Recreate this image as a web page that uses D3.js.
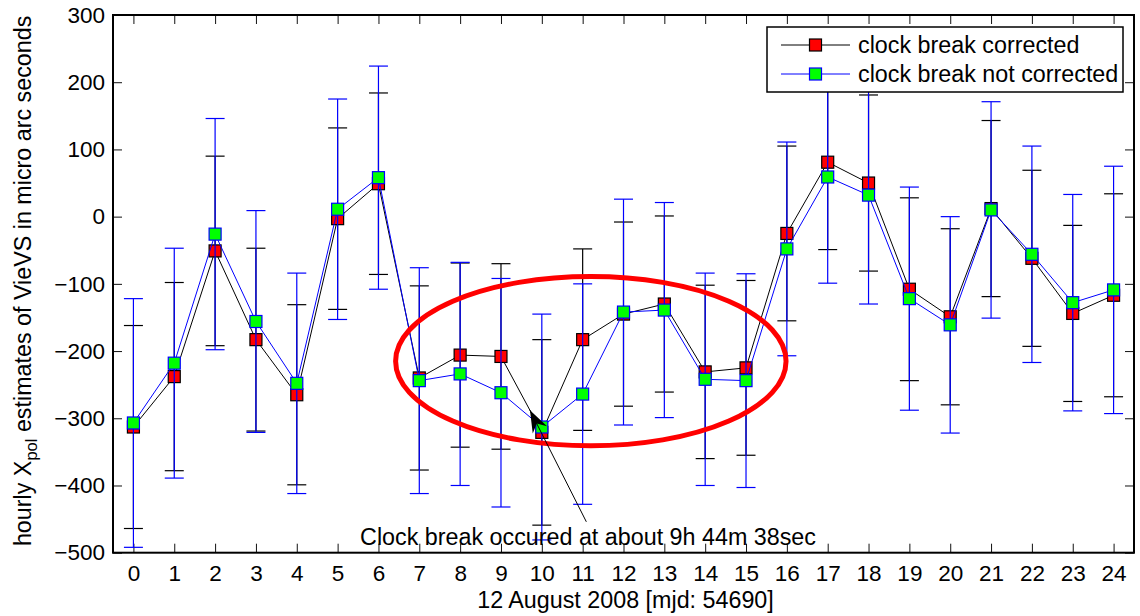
<!DOCTYPE html>
<html>
<head>
<meta charset="utf-8">
<script src="https://cdn.jsdelivr.net/npm/d3@7"></script>
<style>
  html, body { margin: 0; padding: 0; background: #fff; }
  svg { display: block; font-family: "Liberation Sans", Arial, Helvetica, sans-serif; }
</style>
</head>
<body>
<svg id="chart" width="1140" height="616"></svg>
<script>
// ---------- data ----------
const hours = d3.range(0, 25);
const yTicks = [-500, -400, -300, -200, -100, 0, 100, 200, 300];

const seriesNames = ["clock break corrected", "clock break not corrected"];

const corrected    = [-313, -238, -51, -183, -265, -3, 49, -240, -206, -208, -321, -183, -145, -130, -231, -225, -25, 81, 50, -108, -149, 12, -62, -144, -117];
const correctedErr = [151, 140, 141, 136, 134, 135, 135, 137, 137, 138, 138, 135, 137, 131, 129, 130, 130, 130, 131, 136, 131, 131, 131, 131, 151];

const notCorrected    = [-307, -218, -26, -156, -248, 11, 58, -244, -234, -262, -313, -264, -142, -139, -242, -244, -48, 59, 32, -122, -161, 10, -56, -128, -109];
const notCorrectedErr = [185, 171, 172, 165, 164, 164, 166, 168, 166, 170, 168, 164, 168, 160, 158, 159, 159, 158, 162, 166, 161, 161, 161, 161, 184];

const xLabel = "12 August 2008 [mjd: 54690]";
const annotationText = "Clock break occured at about 9h 44m 38sec";

// ---------- layout ----------
const svg = d3.select("#chart");
const L = 113, R = 1134, T = 15, B = 552.7;
const x = d3.scaleLinear().domain([-0.5, 24.5]).range([L, R]);
const y = d3.scaleLinear().domain([-500, 300]).range([B, T]);

const FS = 22.5;   // tick labels
const FL = 23.3;   // other text
const tickLen = 9;

// ---------- axes ----------
function styleAxis(g) {
  g.select(".domain").remove();
  g.selectAll(".tick line").attr("stroke", "#111").attr("stroke-width", 1);
  g.selectAll(".tick text").attr("fill", "#000").attr("font-size", FS).attr("font-family", "Liberation Sans, Arial, sans-serif");
}
svg.append("g").attr("transform", `translate(0,${B})`)
  .call(d3.axisBottom(x).tickValues(hours).tickFormat(d3.format("d")).tickSizeInner(-tickLen).tickSizeOuter(0).tickPadding(12))
  .call(styleAxis);
svg.append("g").attr("transform", `translate(0,${T})`)
  .call(d3.axisTop(x).tickValues(hours).tickFormat("").tickSizeInner(-tickLen).tickSizeOuter(0))
  .call(styleAxis);
svg.append("g").attr("transform", `translate(${L},0)`)
  .call(d3.axisLeft(y).tickValues(yTicks).tickFormat(d => d < 0 ? "\u2212" + Math.abs(d) : d).tickSizeInner(-tickLen).tickSizeOuter(0).tickPadding(8))
  .call(styleAxis);
svg.append("g").attr("transform", `translate(${R},0)`)
  .call(d3.axisRight(y).tickValues(yTicks).tickFormat("").tickSizeInner(-tickLen).tickSizeOuter(0))
  .call(styleAxis);

svg.append("rect").attr("x", L).attr("y", T).attr("width", R - L).attr("height", B - T)
  .attr("fill", "none").attr("stroke", "#000").attr("stroke-width", 2);

// ---------- series ----------
const series = [
  { name: seriesNames[0], vals: corrected, errs: correctedErr, line: "#000000", fill: "#ff0000", edge: "#000000" },
  { name: seriesNames[1], vals: notCorrected, errs: notCorrectedErr, line: "#0000ff", fill: "#00ff00", edge: "#0000ff" }
];
const cap = 9.5, ms = 12;

const plot = svg.append("g");
series.forEach(s => {
  const g = plot.append("g");
  const pts = hours.map((h, i) => ({ h, v: s.vals[i], e: s.errs[i] }));
  const eb = g.selectAll(".eb").data(pts).enter().append("g");
  eb.append("line").attr("x1", d => x(d.h)).attr("x2", d => x(d.h))
    .attr("y1", d => y(d.v - d.e)).attr("y2", d => y(d.v + d.e))
    .attr("stroke", s.line).attr("stroke-width", 1.2);
  eb.append("line").attr("x1", d => x(d.h) - cap).attr("x2", d => x(d.h) + cap)
    .attr("y1", d => y(d.v + d.e)).attr("y2", d => y(d.v + d.e))
    .attr("stroke", s.line).attr("stroke-width", 1.2);
  eb.append("line").attr("x1", d => x(d.h) - cap).attr("x2", d => x(d.h) + cap)
    .attr("y1", d => y(d.v - d.e)).attr("y2", d => y(d.v - d.e))
    .attr("stroke", s.line).attr("stroke-width", 1.2);
  g.append("path").datum(pts)
    .attr("d", d3.line().x(d => x(d.h)).y(d => y(d.v)))
    .attr("fill", "none").attr("stroke", s.line).attr("stroke-width", 1);
  s.g = g; s.pts = pts;
});
series.forEach(s => {
  s.g.selectAll(".m").data(s.pts).enter().append("rect")
    .attr("x", d => x(d.h) - ms / 2).attr("y", d => y(d.v) - ms / 2)
    .attr("width", ms).attr("height", ms)
    .attr("fill", s.fill).attr("stroke", s.edge).attr("stroke-width", 1.2);
});

// ---------- labels ----------
svg.append("text").attr("x", (L + R) / 2 + 2).attr("y", 608).attr("text-anchor", "middle")
  .attr("font-size", FL).text(xLabel);

const yl = svg.append("text").attr("transform", `translate(31,${(T + B) / 2 - 3}) rotate(-90)`)
  .attr("text-anchor", "middle").attr("font-size", FL);
yl.append("tspan").text("hourly X");
yl.append("tspan").attr("font-size", 16.5).attr("dy", 6).text("pol");
yl.append("tspan").attr("dy", -6).text(" estimates of VieVS in micro arc seconds");

// ---------- legend ----------
const lg = svg.append("g");
lg.append("rect").attr("x", 767).attr("y", 27).attr("width", 356).attr("height", 65)
  .attr("fill", "#fff").attr("stroke", "#000").attr("stroke-width", 1.5);
series.forEach((s, i) => {
  const ly = 45 + i * 29;
  lg.append("line").attr("x1", 781).attr("x2", 850).attr("y1", ly).attr("y2", ly)
    .attr("stroke", s.line).attr("stroke-width", 1);
  lg.append("rect").attr("x", 815.5 - ms / 2).attr("y", ly - ms / 2).attr("width", ms).attr("height", ms)
    .attr("fill", s.fill).attr("stroke", s.edge).attr("stroke-width", 1.2);
  lg.append("text").attr("x", 858).attr("y", ly + 8).attr("font-size", FL).text(s.name);
});

// ---------- annotations (data units) ----------
const ellipseC = { h: 11.2, v: -215, rh: 4.78, rv: 126 };
svg.append("ellipse")
  .attr("cx", x(ellipseC.h)).attr("cy", y(ellipseC.v))
  .attr("rx", x(ellipseC.h + ellipseC.rh) - x(ellipseC.h))
  .attr("ry", y(ellipseC.v - ellipseC.rv) - y(ellipseC.v))
  .attr("fill", "none").attr("stroke", "#ff0000").attr("stroke-width", 5);

const arrowTail = { h: 11.09, v: -454 }, arrowTip = { h: 9.71, v: -288 };
const tx = x(arrowTip.h), ty = y(arrowTip.v), sx = x(arrowTail.h), sy = y(arrowTail.v);
svg.append("line").attr("x1", sx).attr("y1", sy).attr("x2", tx).attr("y2", ty)
  .attr("stroke", "#000").attr("stroke-width", 1);
{
  const ang = Math.atan2(ty - sy, tx - sx);
  const hl = 22, hw = 8, back = 15;
  const ux = Math.cos(ang), uy = Math.sin(ang), px = -uy, py = ux;
  const bx = tx - ux * hl, by = ty - uy * hl;
  const nx = tx - ux * back, ny = ty - uy * back;
  svg.append("path")
    .attr("d", `M${tx},${ty} L${bx + px * hw},${by + py * hw} L${nx},${ny} L${bx - px * hw},${by - py * hw} Z`)
    .attr("fill", "#000");
}
svg.append("text").attr("x", x(5.55)).attr("y", y(-489)).attr("font-size", FL).text(annotationText);
</script>
</body>
</html>
